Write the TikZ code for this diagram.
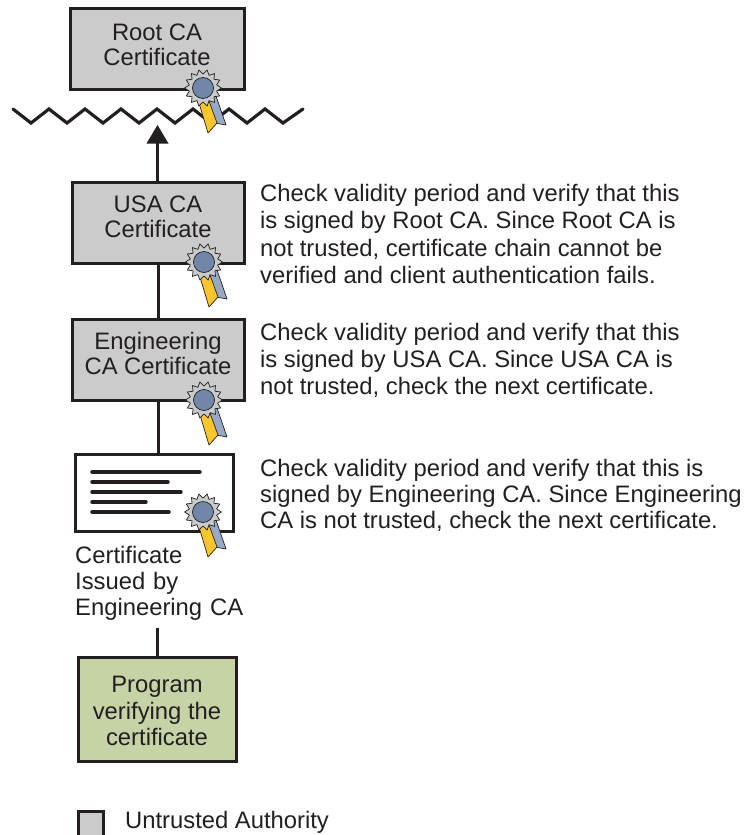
\documentclass[tikz,border=0pt]{standalone}
\usepackage{fontspec}
\setmainfont{Liberation Sans}
\definecolor{ink}{HTML}{231F20}
\definecolor{boxgrey}{HTML}{CBCBCB}
\definecolor{boxgreen}{HTML}{C6D3A6}
\definecolor{sealgrey}{HTML}{C9CACC}
\definecolor{sealblue}{HTML}{7287A8}
\definecolor{ribblue}{HTML}{98A9C5}
\definecolor{ribyellow}{HTML}{FBC52D}
\newcommand{\txt}[1]{\fontsize{23.8}{#1}\selectfont}
\tikzset{
  base/.style={font=\txt{27}, text=ink},
  cabox/.style={base, draw=ink, line width=3pt, fill=boxgrey, align=center, anchor=center, inner sep=0pt},
  progbox/.style={cabox, fill=boxgreen},
  certbox/.style={draw=ink, line width=3pt, fill=white, inner sep=0pt, anchor=center},
  note/.style={base, align=left, anchor=north west, inner sep=0pt},
  link/.style={draw=ink, line width=3pt},
  certline/.style={draw=ink, line width=3.4pt, line cap=round},
  sealpart/.style={draw=ink, line width=0.7pt, line join=round},
}
\newcommand{\sealat}[2]{%
  \begin{scope}[shift={(#1,#2)}]
    \path[sealpart, fill=ribblue] (4,11) -- (13,8) -- (23,37) -- (12,35) -- cycle;
    \path[sealpart, fill=ribyellow] (-4,15) -- (6,13) -- (14,35) -- (5,45) -- cycle;
    \path[sealpart, fill=sealgrey] plot[variable=\i, samples at={0,...,27}]
      ({(mod(\i,2)==0?18.5:14)*cos(\i*360/28)},{(mod(\i,2)==0?18.5:14)*sin(\i*360/28)}) -- cycle;
    \path[sealpart, fill=sealblue] (0,0) circle (10.5);
  \end{scope}}
\newcommand{\twoline}[3]{\raisebox{#1pt}[0pt][0pt]{\begin{tabular}{@{}c@{}}#2\\[-2pt]#3\end{tabular}}}
\begin{document}
\begin{tikzpicture}[x=1pt,y=-1pt]
\useasboundingbox (0,0) rectangle (747,835);
\clip (0,0) rectangle (747,835);

\coordinate (tip) at (157.5,125);
\node[cabox, minimum width=174pt, minimum height=81pt] (root) at (157,48.5) {\twoline{-5}{Root CA}{Certificate}};
\node[cabox, minimum width=172pt, minimum height=81pt] (usa) at (158,222.5) {\twoline{-3}{USA CA}{Certificate}};
\node[cabox, minimum width=172pt, minimum height=81pt] (eng) at (158,359.5) {\twoline{-3.5}{Engineering}{CA Certificate}};
\node[certbox, minimum width=158pt, minimum height=77pt] (cert) at (154,492.5) {};
\node[note, font=\txt{26}, text width=170pt] (lab) at (75,546) {Certificate\\Issued by\\Engineering CA};
\node[progbox, minimum width=158pt, minimum height=104pt] (prog) at (157,709) {\phantom{x}};
\node[base, font=\txt{26.5}, align=center, inner sep=0pt] (progtext) at (157,711) {Program\\verifying the\\certificate};

% connectors
\draw[link] (tip |- usa.north) -- (tip |- 0,143);
\path[fill=ink] (tip) -- (168.5,143.5) -- (146.5,143.5) -- cycle;
\draw[link] (usa.south) -- (eng.north);
\draw[link] (eng.south) -- (cert.north -| eng.south);
\draw[link] (prog.north) -- (prog.north |- 0,628);

% torn line
\draw[draw=ink, line width=3.2pt, line join=miter, line cap=round]
  (13,109) -- (31,123) -- (49,109) -- (67,123) -- (85,109) -- (103,123) -- (121,109) -- (139,123)
  -- (157,109) -- (175,123) -- (193,109) -- (211,123) -- (229,109) -- (247,123) -- (265,109) -- (283,123) -- (303,109);

% certificate rules
\draw[certline] (92,472) -- (200,472);
\draw[certline] (92,482) -- (168,482);
\draw[certline] (92,492) -- (181,492);
\draw[certline] (92,502) -- (146,502);
\draw[certline] (92,512) -- (169,512);

% seals
\sealat{203}{88}
\sealat{204}{262}
\sealat{204}{400}
\sealat{203}{512}

% notes
\node[note, font=\txt{27.5}] (n1) at (260,184) {Check validity period and verify that this\\is signed by Root CA. Since Root CA is\\not trusted, certificate chain cannot be\\verified and client authentication fails.};
\node[note] (n2) at (260,323) {Check validity period and verify that this\\is signed by USA CA. Since USA CA is\\not trusted, check the next certificate.};
\node[note, font=\txt{26}] (n3) at (260,459) {Check validity period and verify that this is\\signed by Engineering CA. Since Engineering\\CA is not trusted, check the next certificate.};

% legend
\node[cabox, minimum width=25pt, minimum height=26pt] (key) at (91,824) {};
\node[base, anchor=west, inner sep=0pt] (keytext) at (125,822) {Untrusted Authority};
\end{tikzpicture}
\end{document}
